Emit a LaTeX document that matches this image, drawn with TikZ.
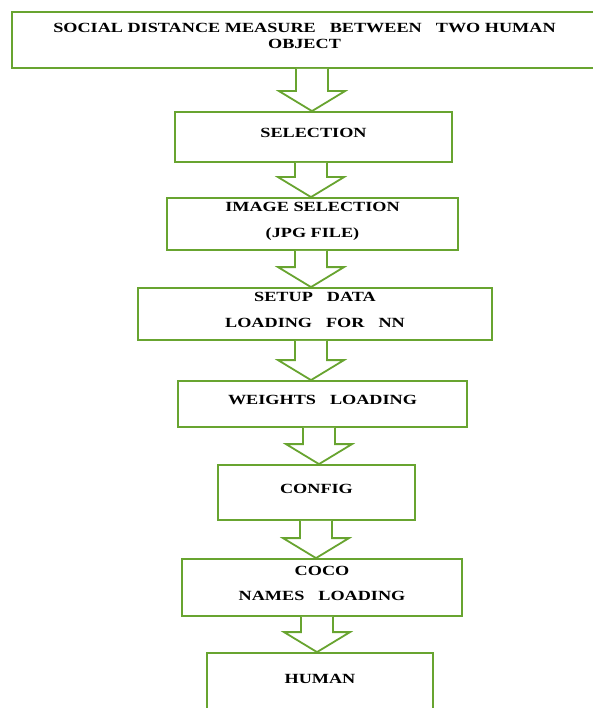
\documentclass[tikz,border=0pt]{standalone}
\usepackage{fontspec}
\newfontfamily\flowfont{Liberation Serif}[FakeStretch=1.3]
\usetikzlibrary{calc}
\definecolor{boxgreen}{RGB}{104,164,48}
\tikzset{
  box/.style={draw=boxgreen, line width=1.8pt, fill=white, align=center, text depth=8pt,
    font=\flowfont\bfseries\fontsize{14}{15}\selectfont},
  flow/.style={draw=boxgreen, line width=1.8pt, fill=white, line join=miter}
}

\begin{document}
\begin{tikzpicture}[x=1pt,y=-1pt]
\useasboundingbox (0,0) rectangle (593,708);
% boxes
\node[box, minimum width=585pt, minimum height=56pt] (title) at (304.5,40) {SOCIAL DISTANCE MEASURE\quad BETWEEN\quad TWO HUMAN\\[1pt]OBJECT};
\node[box, minimum width=277pt, minimum height=50pt] (sel) at (313.5,137) {SELECTION};
\node[box, minimum width=291pt, minimum height=52pt] (img) at (312.5,224) {IMAGE SELECTION\\[11pt](JPG FILE)};
\node[box, minimum width=354pt, minimum height=52pt] (setup) at (315,314) {SETUP\quad DATA\\[11pt]LOADING\quad FOR\quad NN};
\node[box, minimum width=289pt, minimum height=46pt] (wts) at (322.5,404) {WEIGHTS\quad LOADING};
\node[box, minimum width=197pt, minimum height=55pt] (cfg) at (316.5,492.5) {CONFIG};
\node[box, minimum width=280pt, minimum height=57pt] (coco) at (322,587.5) {COCO\\[10pt]NAMES\quad LOADING};
\node[box, minimum width=226pt, minimum height=59pt] (human) at (320,682.5) {HUMAN};

% block arrows
\foreach \a/\b/\x in {title/sel/312, sel/img/311, img/setup/311, setup/wts/311,
                      wts/cfg/319, cfg/coco/316, coco/human/317}{
  \coordinate (top) at (\a.south -| \x,0);
  \coordinate (tip) at (\b.north -| \x,0);
  \draw[flow] ($(top)+(-16,0)$) -- ($(tip)+(-16,-20)$) -- ($(tip)+(-33,-20)$) -- (tip)
    -- ($(tip)+(33,-20)$) -- ($(tip)+(16,-20)$) -- ($(top)+(16,0)$);
}
\end{tikzpicture}
\end{document}
